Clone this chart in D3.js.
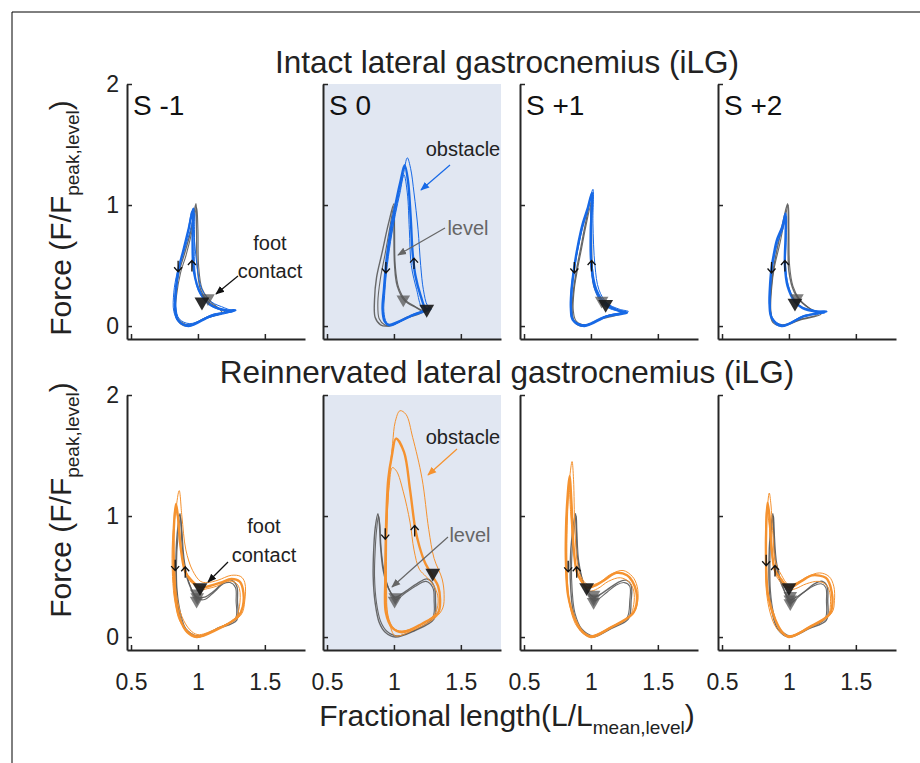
<!DOCTYPE html>
<html><head><meta charset="utf-8">
<script src="https://cdn.jsdelivr.net/npm/d3@7"></script>
<style>
body{margin:0;background:#fff}
svg{display:block}
text{font-family:"Liberation Sans",Arial,Helvetica,sans-serif}
</style>
</head><body>
<svg id="chart" width="920" height="763"></svg>
<script>
// ---------------- DATA ----------------
const stepLabels = ["S -1", "S 0", "S +1", "S +2"];
const rowTitles = ["Intact lateral gastrocnemius (iLG)", "Reinnervated lateral gastrocnemius (iLG)"];
const xTicks = [0.5, 1, 1.5];
const yTicks = [0, 1, 2];
const xDomain = [0.47, 1.8];
const yDomain = [-0.107, 2];

// Intact row: level (grey) traces per step
const intactLevel = [
  [[[0.985,1.01],[0.95,0.80],[0.9,0.6],[0.86,0.45],[0.83,0.25],[0.83,0.1],[0.87,0.02],[0.93,0.0],[1.05,0.06],[1.2,0.12],[1.15,0.15],[1.07,0.21],[1.02,0.3],[0.995,0.5],[0.99,0.8]],
   [[0.99,0.98],[0.955,0.78],[0.91,0.58],[0.87,0.44],[0.84,0.25],[0.835,0.1],[0.88,0.03],[0.94,0.01],[1.06,0.07],[1.18,0.11],[1.14,0.16],[1.08,0.22],[1.03,0.31],[1.005,0.5],[1.0,0.8]]],
  [[[1.0,1.01],[0.96,0.85],[0.91,0.6],[0.87,0.4],[0.855,0.22],[0.86,0.07],[0.9,0.01],[0.95,0.0],[1.08,0.06],[1.22,0.12],[1.17,0.15],[1.08,0.21],[1.025,0.33],[1.005,0.5],[1.0,0.8]],
   [[1.0,0.99],[0.97,0.82],[0.935,0.6],[0.9,0.4],[0.88,0.2],[0.89,0.06],[0.93,0.01],[0.97,0.0],[1.09,0.07],[1.2,0.12],[1.16,0.16],[1.09,0.21],[1.035,0.32],[1.01,0.5],[1.005,0.8]]],
  [[[0.995,1.02],[0.96,0.85],[0.925,0.65],[0.895,0.48],[0.87,0.3],[0.86,0.12],[0.88,0.03],[0.95,0.0],[1.08,0.06],[1.24,0.11],[1.16,0.15],[1.08,0.21],[1.025,0.32],[1.005,0.5],[1.0,0.8]],
   [[1.0,1.0],[0.965,0.84],[0.93,0.64],[0.9,0.47],[0.875,0.3],[0.868,0.13],[0.89,0.04],[0.955,0.01],[1.09,0.07],[1.22,0.11],[1.15,0.16],[1.08,0.22],[1.03,0.33],[1.01,0.5],[1.005,0.8]]],
  [[[0.99,1.01],[0.96,0.88],[0.92,0.68],[0.885,0.48],[0.865,0.3],[0.86,0.13],[0.88,0.03],[0.945,0.0],[1.08,0.05],[1.24,0.1],[1.18,0.13],[1.1,0.19],[1.04,0.28],[1.0,0.45],[0.995,0.8]],
   [[0.995,1.0],[0.965,0.86],[0.93,0.67],[0.89,0.48],[0.87,0.3],[0.865,0.13],[0.885,0.04],[0.95,0.01],[1.1,0.06],[1.22,0.1],[1.16,0.14],[1.08,0.22],[1.03,0.33],[1.005,0.5],[1.0,0.8]]]
];
// Intact row: obstacle (blue) thick mean trace per step
const intactObsThick = [
  [[0.965,0.97],[0.93,0.8],[0.89,0.62],[0.855,0.47],[0.835,0.3],[0.83,0.15],[0.85,0.05],[0.93,0.0],[1.1,0.085],[1.28,0.13],[1.22,0.13],[1.1,0.17],[1.02,0.27],[0.97,0.45],[0.96,0.7]],
  [[1.08,1.33],[1.05,1.2],[1.02,1.05],[0.98,0.82],[0.945,0.55],[0.925,0.3],[0.915,0.14],[0.93,0.04],[0.96,0.01],[1.14,0.09],[1.27,0.15],[1.24,0.14],[1.2,0.25],[1.16,0.42],[1.14,0.6],[1.125,0.9],[1.105,1.2]],
  [[1.008,1.10],[0.975,0.97],[0.94,0.85],[0.9,0.65],[0.876,0.49],[0.855,0.3],[0.85,0.15],[0.865,0.05],[0.95,0.0],[1.12,0.08],[1.27,0.11],[1.2,0.13],[1.11,0.18],[1.04,0.3],[1.005,0.49],[1.0,0.79]],
  [[0.975,0.93],[0.95,0.82],[0.91,0.71],[0.885,0.58],[0.87,0.48],[0.857,0.3],[0.855,0.18],[0.87,0.07],[0.945,0.0],[1.11,0.08],[1.28,0.12],[1.2,0.12],[1.1,0.15],[1.045,0.2],[0.99,0.33],[0.97,0.5],[0.975,0.75]]
];
// Intact row: obstacle (blue) thin individual traces per step
const intactObsThin = [
  [[[0.975,0.93],[0.935,0.76],[0.885,0.58],[0.845,0.44],[0.82,0.28],[0.82,0.12],[0.86,0.03],[0.93,0.01],[1.08,0.07],[1.25,0.12],[1.18,0.13],[1.08,0.18],[1.0,0.3],[0.975,0.5],[0.975,0.8]],
   [[0.955,0.95],[0.925,0.78],[0.885,0.6],[0.86,0.47],[0.84,0.3],[0.835,0.16],[0.86,0.06],[0.94,0.02],[1.12,0.1],[1.26,0.12],[1.2,0.15],[1.1,0.2],[1.03,0.3],[0.995,0.48],[0.975,0.7]]],
  [[[1.1,1.39],[1.07,1.25],[1.03,1.05],[0.99,0.82],[0.95,0.55],[0.925,0.3],[0.915,0.14],[0.935,0.03],[0.97,0.0],[1.15,0.1],[1.28,0.14],[1.25,0.17],[1.22,0.3],[1.2,0.5],[1.18,0.8],[1.15,1.1],[1.125,1.3]],
   [[1.075,1.25],[1.045,1.1],[1.01,0.92],[0.975,0.7],[0.945,0.45],[0.93,0.25],[0.925,0.12],[0.945,0.03],[0.98,0.01],[1.13,0.08],[1.25,0.13],[1.21,0.15],[1.17,0.3],[1.13,0.5],[1.115,0.8],[1.1,1.1]]],
  [[[1.015,1.13],[0.98,0.99],[0.945,0.86],[0.905,0.66],[0.88,0.49],[0.86,0.3],[0.855,0.14],[0.87,0.05],[0.955,0.01],[1.13,0.09],[1.28,0.12],[1.21,0.14],[1.12,0.19],[1.06,0.3],[1.03,0.5],[1.015,0.85]],
   [[1.0,1.05],[0.97,0.93],[0.935,0.8],[0.9,0.62],[0.872,0.47],[0.852,0.3],[0.848,0.16],[0.86,0.06],[0.94,0.01],[1.1,0.08],[1.25,0.12],[1.18,0.13],[1.1,0.17],[1.035,0.28],[1.0,0.48],[0.995,0.8]]],
  [[[0.98,0.91],[0.955,0.8],[0.915,0.69],[0.89,0.57],[0.875,0.47],[0.862,0.3],[0.86,0.17],[0.875,0.07],[0.95,0.01],[1.12,0.09],[1.27,0.11],[1.19,0.13],[1.09,0.16],[1.04,0.22],[0.995,0.34],[0.975,0.5],[0.98,0.75]]]
];
const intactFootObs = [[1.03,0.2],[1.245,0.14],[1.11,0.18],[1.045,0.19]];
const intactFootLevel = [[[1.075,0.23]],[[1.07,0.22]],[[1.08,0.21]],[[1.06,0.23]]];
const intactArrowDown = [[0.852,0.49],[0.94,0.48],[0.876,0.48],[0.87,0.48]];
const intactArrowUp = [[0.955,0.5],[1.15,0.52],[1.005,0.5],[0.97,0.5]];

// Reinnervated row
const reinLevel = [
  [[[0.866,1.02],[0.845,0.85],[0.835,0.6],[0.84,0.38],[0.86,0.2],[0.9,0.07],[0.99,0.0],[1.15,0.07],[1.29,0.14],[1.295,0.3],[1.29,0.42],[1.25,0.47],[1.2,0.46],[1.12,0.38],[1.05,0.33],[0.99,0.33],[0.93,0.45],[0.89,0.65],[0.875,0.9]],
   [[0.87,0.99],[0.85,0.82],[0.84,0.6],[0.845,0.38],[0.87,0.2],[0.91,0.07],[1.0,0.01],[1.16,0.08],[1.28,0.15],[1.285,0.3],[1.28,0.41],[1.24,0.45],[1.19,0.44],[1.12,0.37],[1.05,0.31],[0.995,0.32],[0.94,0.43],[0.9,0.62],[0.88,0.88]]],
  [[[0.88,1.02],[0.86,0.9],[0.85,0.75],[0.845,0.5],[0.86,0.28],[0.89,0.12],[0.935,0.04],[1.01,0.0],[1.15,0.05],[1.3,0.15],[1.31,0.3],[1.3,0.42],[1.25,0.48],[1.17,0.44],[1.09,0.38],[1.01,0.33],[0.96,0.4],[0.92,0.55],[0.9,0.75],[0.89,0.95]],
   [[0.885,1.0],[0.87,0.88],[0.86,0.72],[0.855,0.5],[0.87,0.28],[0.9,0.13],[0.945,0.05],[1.02,0.01],[1.16,0.06],[1.29,0.16],[1.3,0.3],[1.29,0.41],[1.24,0.46],[1.16,0.42],[1.08,0.36],[1.015,0.31],[0.97,0.38],[0.93,0.52],[0.905,0.72],[0.895,0.93]]],
  [[[0.885,1.02],[0.86,0.85],[0.845,0.6],[0.85,0.38],[0.87,0.2],[0.92,0.06],[1.01,0.0],[1.15,0.07],[1.28,0.15],[1.3,0.3],[1.3,0.43],[1.26,0.47],[1.2,0.45],[1.12,0.39],[1.05,0.34],[1.02,0.33],[0.95,0.43],[0.9,0.65],[0.89,0.9]],
   [[0.89,1.0],[0.87,0.84],[0.855,0.6],[0.86,0.38],[0.88,0.2],[0.93,0.07],[1.02,0.01],[1.16,0.08],[1.27,0.16],[1.29,0.3],[1.29,0.42],[1.25,0.45],[1.19,0.43],[1.12,0.37],[1.05,0.31],[1.02,0.3],[0.96,0.4],[0.91,0.62],[0.895,0.88]]],
  [[[0.88,1.02],[0.86,0.85],[0.85,0.6],[0.855,0.38],[0.875,0.2],[0.92,0.06],[1.0,0.0],[1.15,0.07],[1.28,0.14],[1.29,0.3],[1.285,0.42],[1.25,0.46],[1.19,0.44],[1.11,0.37],[1.04,0.32],[1.01,0.31],[0.95,0.42],[0.9,0.62],[0.885,0.9]],
   [[0.885,1.0],[0.865,0.84],[0.858,0.6],[0.862,0.38],[0.885,0.2],[0.93,0.07],[1.01,0.01],[1.16,0.08],[1.27,0.15],[1.28,0.3],[1.275,0.41],[1.24,0.44],[1.18,0.42],[1.1,0.36],[1.04,0.3],[1.01,0.28],[0.96,0.4],[0.91,0.6],[0.89,0.88]]]
];
const reinObsThick = [
  [[0.836,1.10],[0.82,0.9],[0.818,0.6],[0.83,0.34],[0.866,0.15],[0.92,0.04],[0.99,0.0],[1.14,0.06],[1.3,0.17],[1.335,0.25],[1.335,0.4],[1.31,0.46],[1.25,0.48],[1.17,0.45],[1.08,0.42],[1.016,0.41],[0.95,0.47],[0.905,0.54],[0.87,0.75],[0.85,1.0]],
  [[1.015,1.64],[0.985,1.5],[0.958,1.31],[0.945,1.05],[0.94,0.86],[0.935,0.48],[0.94,0.2],[0.985,0.08],[1.06,0.04],[1.21,0.11],[1.33,0.2],[1.345,0.3],[1.33,0.42],[1.29,0.5],[1.23,0.62],[1.19,0.75],[1.16,0.89],[1.12,1.22],[1.075,1.53]],
  [[0.84,1.33],[0.825,1.15],[0.814,0.9],[0.814,0.59],[0.83,0.34],[0.88,0.15],[0.94,0.04],[1.0,0.0],[1.15,0.08],[1.31,0.19],[1.34,0.27],[1.34,0.37],[1.31,0.46],[1.27,0.51],[1.19,0.53],[1.1,0.47],[1.02,0.42],[0.968,0.41],[0.92,0.48],[0.894,0.54],[0.87,0.75],[0.855,1.1]],
  [[0.84,1.11],[0.83,0.89],[0.83,0.59],[0.845,0.34],[0.896,0.15],[0.95,0.04],[1.0,0.0],[1.15,0.08],[1.305,0.19],[1.325,0.28],[1.32,0.37],[1.3,0.45],[1.275,0.49],[1.175,0.51],[1.09,0.46],[1.0,0.41],[0.94,0.48],[0.896,0.55],[0.87,0.75],[0.855,1.0]]
];
const reinObsThin = [
  [[[0.86,1.21],[0.835,1.05],[0.81,0.8],[0.81,0.5],[0.83,0.28],[0.87,0.12],[0.95,0.03],[1.0,0.01],[1.16,0.08],[1.32,0.18],[1.35,0.3],[1.35,0.45],[1.32,0.5],[1.25,0.51],[1.15,0.47],[1.07,0.45],[1.02,0.46],[0.96,0.55],[0.91,0.72],[0.88,1.0]],
   [[0.83,1.06],[0.82,0.85],[0.825,0.6],[0.84,0.35],[0.88,0.17],[0.94,0.06],[1.0,0.02],[1.12,0.06],[1.28,0.16],[1.31,0.25],[1.31,0.4],[1.28,0.45],[1.22,0.46],[1.14,0.42],[1.07,0.4],[1.02,0.39],[0.96,0.44],[0.92,0.5],[0.885,0.65],[0.855,0.95]]],
  [[[1.045,1.87],[1.01,1.78],[0.99,1.6],[0.965,1.3],[0.95,1.0],[0.94,0.6],[0.945,0.25],[0.975,0.08],[1.01,0.01],[1.15,0.06],[1.31,0.16],[1.365,0.24],[1.375,0.35],[1.36,0.48],[1.3,0.65],[1.26,0.89],[1.21,1.31],[1.14,1.65],[1.09,1.84]],
   [[0.988,1.40],[0.965,1.25],[0.95,1.0],[0.945,0.7],[0.945,0.4],[0.955,0.18],[1.0,0.07],[1.06,0.05],[1.2,0.1],[1.31,0.2],[1.33,0.32],[1.3,0.42],[1.24,0.5],[1.19,0.56],[1.15,0.72],[1.12,0.95],[1.07,1.2],[1.02,1.37]]],
  [[[0.859,1.45],[0.84,1.3],[0.825,1.0],[0.82,0.7],[0.825,0.45],[0.85,0.22],[0.9,0.08],[0.98,0.01],[1.16,0.09],[1.32,0.2],[1.35,0.3],[1.345,0.42],[1.31,0.5],[1.24,0.55],[1.15,0.52],[1.06,0.45],[0.98,0.43],[0.925,0.5],[0.9,0.6],[0.88,0.9],[0.87,1.3]],
   [[0.835,1.25],[0.82,1.05],[0.81,0.8],[0.815,0.5],[0.84,0.28],[0.89,0.12],[0.96,0.03],[1.01,0.01],[1.14,0.07],[1.29,0.17],[1.32,0.27],[1.32,0.38],[1.29,0.45],[1.22,0.49],[1.13,0.46],[1.05,0.4],[0.99,0.38],[0.93,0.45],[0.9,0.52],[0.87,0.72],[0.85,1.0]]],
  [[[0.853,1.19],[0.835,1.0],[0.825,0.7],[0.83,0.4],[0.86,0.2],[0.91,0.07],[0.99,0.01],[1.16,0.09],[1.32,0.2],[1.34,0.3],[1.335,0.42],[1.3,0.5],[1.23,0.53],[1.14,0.5],[1.06,0.45],[1.0,0.43],[0.94,0.52],[0.9,0.62],[0.88,0.85],[0.865,1.1]],
   [[0.835,1.05],[0.825,0.85],[0.83,0.55],[0.85,0.3],[0.9,0.13],[0.96,0.03],[1.01,0.01],[1.14,0.07],[1.29,0.17],[1.31,0.27],[1.305,0.37],[1.28,0.43],[1.22,0.46],[1.13,0.44],[1.05,0.4],[1.0,0.39],[0.94,0.45],[0.9,0.52],[0.87,0.7],[0.85,0.95]]]
];
const reinFootObs = [[1.016,0.41],[1.29,0.53],[0.968,0.41],[1.0,0.41]];
const reinFootLevel = [[[0.99,0.36],[0.995,0.33],[0.99,0.30]],[[1.01,0.33],[1.005,0.30]],[[1.02,0.35],[1.02,0.32],[1.02,0.29]],[[1.01,0.34],[1.01,0.31],[1.01,0.28]]];
const reinArrowDown = [[0.83,0.59],[0.935,0.85],[0.83,0.58],[0.83,0.63]];
const reinArrowUp = [[0.905,0.54],[1.155,0.88],[0.894,0.54],[0.896,0.55]];

// ---------------- LAYOUT / STYLE ----------------
const panelLeft = [127, 323, 520, 718];
const panelW = 178, panelH = 255;
const rowTop = [84, 395];
const AX = "#262626";
const BLUE = "#1769e6", ORANGE = "#f5922f", GREY = "#5a5a5a";

const svg = d3.select("#chart");
const defs = svg.append("defs");
function mkMarker(id, color){
  defs.append("marker").attr("id", id).attr("viewBox","0 0 10 10")
    .attr("refX", 9).attr("refY", 5).attr("markerWidth", 9).attr("markerHeight", 9)
    .attr("markerUnits","userSpaceOnUse").attr("orient","auto")
    .append("path").attr("d","M0,1 L10,5 L0,9 z").attr("fill", color);
}
mkMarker("mBlack", "#111"); mkMarker("mBlue", BLUE); mkMarker("mOrange", ORANGE); mkMarker("mGrey", "#666");

// frame
svg.append("line").attr("x1",12).attr("y1",12).attr("x2",920).attr("y2",12).attr("stroke","#000").attr("stroke-width",1);
svg.append("line").attr("x1",12).attr("y1",12).attr("x2",12).attr("y2",763).attr("stroke","#000").attr("stroke-width",1);

const rows = [
  {level: intactLevel, thick: intactObsThick, thin: intactObsThin, foot: intactFootObs, footL: intactFootLevel, down: intactArrowDown, up: intactArrowUp, color: BLUE},
  {level: reinLevel, thick: reinObsThick, thin: reinObsThin, foot: reinFootObs, footL: reinFootLevel, down: reinArrowDown, up: reinArrowUp, color: ORANGE}
];

const tri = d3.symbol().type(d3.symbolTriangle);

rows.forEach((R, ri) => {
  const top = rowTop[ri];
  stepLabels.forEach((lab, pi) => {
    const x0 = panelLeft[pi];
    const x = d3.scaleLinear().domain(xDomain).range([x0, x0 + panelW]);
    const y = d3.scaleLinear().domain(yDomain).range([top + panelH, top]);
    const g = svg.append("g");
    if (pi === 1) {
      g.append("rect").attr("x", x.range()[0]).attr("y", y.range()[1])
        .attr("width", panelW).attr("height", panelH).attr("fill", "#e1e7f2");
    }
    const line = d3.line().x(d => x(d[0])).y(d => y(d[1])).curve(d3.curveCatmullRomClosed.alpha(0.5));
    R.level[pi].forEach((tr, k) => {
      g.append("path").attr("d", line(tr)).attr("fill","none")
        .attr("stroke", GREY).attr("stroke-width", k === 0 ? 1.4 : 1.1).attr("stroke-opacity", 0.9)
        .attr("stroke-linejoin","round");
    });
    R.thin[pi].forEach(tr => {
      g.append("path").attr("d", line(tr)).attr("fill","none")
        .attr("stroke", R.color).attr("stroke-width", 1).attr("stroke-linejoin","round");
    });
    g.append("path").attr("d", line(R.thick[pi])).attr("fill","none")
      .attr("stroke", R.color).attr("stroke-width", 2.4).attr("stroke-linejoin","round");
    R.footL[pi].forEach(p => {
      g.append("path").attr("d", tri.size(80)())
        .attr("transform", `translate(${x(p[0])},${y(p[1])}) rotate(180)`)
        .attr("fill", "#555").attr("fill-opacity", 0.75);
    });
    g.append("path").attr("d", tri.size(95)())
      .attr("transform", `translate(${x(R.foot[pi][0])},${y(R.foot[pi][1])}) rotate(180)`)
      .attr("fill", "#1a1a1a").attr("fill-opacity", 0.92);
    const dn = R.down[pi], upA = R.up[pi];
    g.append("path").attr("d", "M0,-6 V5 M-4,0.5 L0,5 L4,0.5")
      .attr("transform", `translate(${x(dn[0])},${y(dn[1])})`)
      .attr("fill","none").attr("stroke","#111").attr("stroke-width",1.3);
    g.append("path").attr("d", "M0,6 V-5 M-4,-0.5 L0,-5 L4,-0.5")
      .attr("transform", `translate(${x(upA[0])},${y(upA[1])})`)
      .attr("fill","none").attr("stroke","#111").attr("stroke-width",1.3);

    const ya = d3.axisLeft(y).tickValues(yTicks).tickSize(-5).tickSizeOuter(0).tickPadding(8)
      .tickFormat(pi === 0 ? d3.format("d") : () => "");
    const yg = g.append("g").attr("transform", `translate(${x0},0)`).call(ya);
    const xa = d3.axisBottom(x).tickValues(xTicks).tickSize(-5).tickSizeOuter(0).tickPadding(24)
      .tickFormat(ri === 1 ? d3.format("") : () => "");
    const xg = g.append("g").attr("transform", `translate(0,${top + panelH})`).call(xa);
    [yg, xg].forEach(a => {
      a.select(".domain").attr("stroke", AX).attr("stroke-width", 2);
      a.selectAll(".tick line").attr("stroke", AX).attr("stroke-width", 1.5);
      a.selectAll("text").attr("font-family", '"Liberation Sans",Arial,sans-serif')
        .attr("font-size", 23).attr("fill", "#222");
      a.attr("font-family", null).attr("font-size", null);
    });
    if (ri === 0) {
      g.append("text").attr("x", x0 + 6).attr("y", top + 31).attr("font-size", 28).attr("fill","#111").text(lab);
    }
  });
});

// titles
svg.append("text").attr("x", 507).attr("y", 73).attr("text-anchor","middle").attr("font-size", 31.5).attr("fill","#222").text(rowTitles[0]);
svg.append("text").attr("x", 507).attr("y", 383).attr("text-anchor","middle").attr("font-size", 31.5).attr("fill","#222").text(rowTitles[1]);

// y labels
function yLabel(cy){
  const t = svg.append("text").attr("transform", `translate(71,${cy}) rotate(-90)`)
    .attr("text-anchor","middle").attr("font-size", 30).attr("fill","#222");
  t.append("tspan").text("Force (F/F");
  t.append("tspan").attr("font-size", 19).attr("dy", 8).text("peak,level");
  t.append("tspan").attr("dy", -8).text(")");
}
yLabel(218); yLabel(500);
// x label
{
  const t = svg.append("text").attr("x", 507).attr("y", 726).attr("text-anchor","middle")
    .attr("font-size", 30).attr("fill","#222");
  t.append("tspan").text("Fractional length(L/L");
  t.append("tspan").attr("font-size", 19).attr("dy", 8).text("mean,level");
  t.append("tspan").attr("dy", -8).text(")");
}

// annotations
function note(txt, cx, by, color){
  svg.append("text").attr("x", cx).attr("y", by).attr("text-anchor","middle").attr("font-size", 20).attr("fill", color).text(txt);
}
function arrow(x1,y1,x2,y2,color,marker){
  svg.append("line").attr("x1",x1).attr("y1",y1).attr("x2",x2).attr("y2",y2)
    .attr("stroke", color).attr("stroke-width", 1.2).attr("marker-end", `url(#${marker})`);
}
note("foot", 270, 250, "#222"); note("contact", 270, 278, "#222");
arrow(238, 276, 216, 294, "#111", "mBlack");
note("obstacle", 463, 156, "#222");
arrow(450, 165, 421, 190, BLUE, "mBlue");
note("level", 468, 235, "#666");
arrow(445, 228, 398, 255, "#666", "mGrey");

note("foot", 264, 533, "#222"); note("contact", 264, 562, "#222");
arrow(228, 562, 208, 582, "#111", "mBlack");
note("obstacle", 463, 444, "#222");
arrow(457, 449, 428, 475, ORANGE, "mOrange");
note("level", 470, 542, "#666");
arrow(448, 537, 392, 587, "#666", "mGrey");
</script>
</body></html>
